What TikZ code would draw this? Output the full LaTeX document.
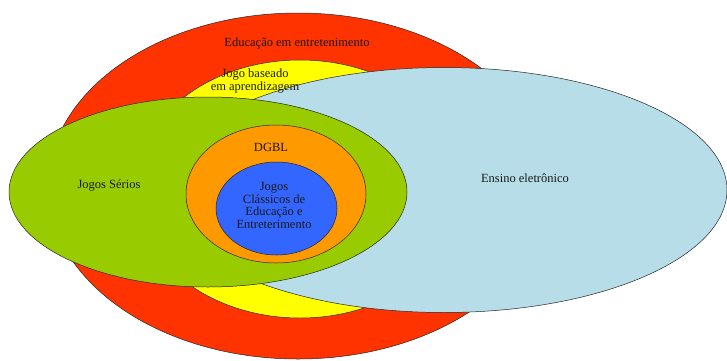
\documentclass[tikz,border=0pt]{standalone}
\usepackage{fontspec}
\setmainfont{Liberation Serif}
\usepackage{tikz}
\definecolor{edured}{RGB}{255,51,0}
\definecolor{gblyellow}{RGB}{255,255,0}
\definecolor{sgreen}{RGB}{153,204,0}
\definecolor{dgblorange}{RGB}{255,153,0}
\definecolor{classblue}{RGB}{51,102,255}
\definecolor{elearn}{RGB}{183,221,232}
\tikzstyle{zone} = [draw=black!85, line width=0.5pt]
\tikzset{
  zonetext/.style ={text=black!90, font=\rmfamily\fontsize{12.5}{12.4}\selectfont, align=center, inner sep=0pt}
}

\begin{document}
\begin{tikzpicture}[line cap=round,line join=round,x=1pt,y=1pt]
\useasboundingbox (0,0) rectangle (727,360);
\draw [zone,fill=edured] (298,174) ellipse [x radius=250, y radius=173];
\draw [zone,fill=gblyellow] (300,171) ellipse [x radius=165, y radius=129];
\draw [zone,fill=elearn] (444,170) ellipse [x radius=283, y radius=122.5];
\draw [zone,fill=sgreen] (208,168) ellipse [x radius=199, y radius=95];
\draw [zone,fill=dgblorange] (276,166) ellipse [x radius=90, y radius=69];
\draw [zone,fill=classblue] (276.5,151.5) ellipse [x radius=60.5, y radius=46.5];
% labels
\node [zonetext] (edu) at (297,317) {Educação em entretenimento};
\node [zonetext] (gbl) at (255,279) {Jogo baseado\\em aprendizagem};
\node [zonetext] (serios) at (109,175) {Jogos Sérios};
\node [zonetext] (dgbl) at (271,213) {DGBL};
\node [zonetext] (classicos) at (274,154.5) {Jogos\\Clássicos de\\Educação e\\Entreterimento};
\node [zonetext] (ensino) at (525,182) {Ensino eletrônico};
\end{tikzpicture}
\end{document}
